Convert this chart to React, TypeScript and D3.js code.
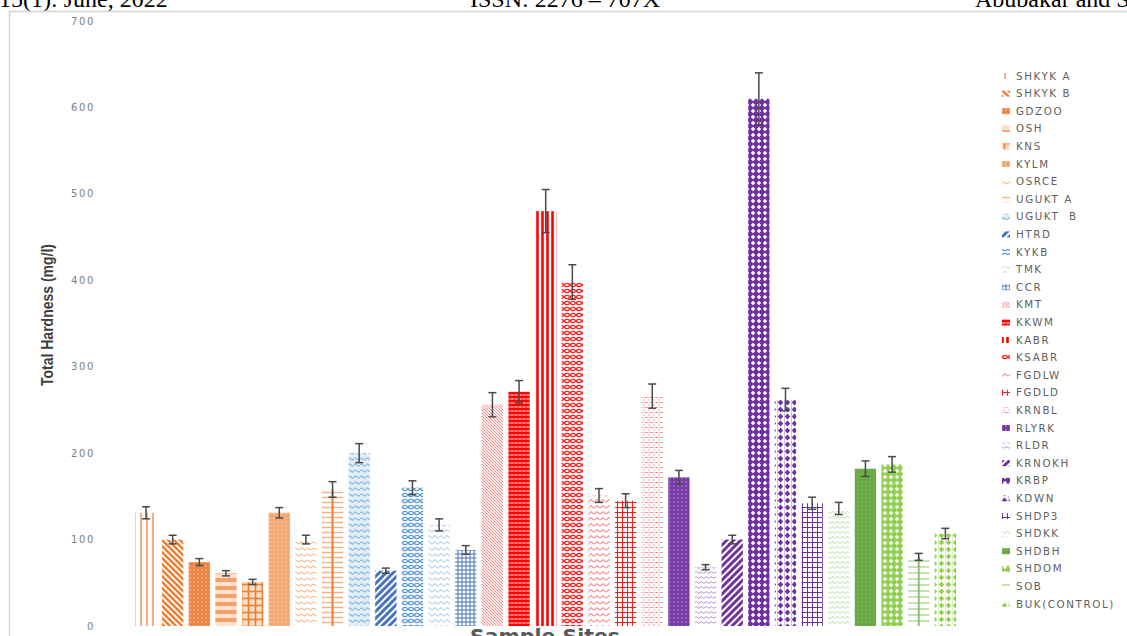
import React from "react";
import * as d3 from "d3";

const sites = ["SHKYK A","SHKYK B","GDZOO","OSH","KNS","KYLM","OSRCE","UGUKT A","UGUKT  B","HTRD","KYKB","TMK","CCR","KMT","KKWM","KABR","KSABR","FGDLW","FGDLD","KRNBL","RLYRK","RLDR","KRNOKH","KRBP","KDWN","SHDP3","SHDKK","SHDBH","SHDOM","SOB","BUK(CONTROL)"];
const hardness = [131,100,74,61,51,131,100,158,200,64,160,117,88,256,271,480,398,151,145,266,172,68,100,610,262,142,136,182,187,80,107];
const errors = [7,5,4,3,3,6,5,9,11,3,8,7,5,14,13,25,20,8,8,14,8,3,5,30,13,7,7,9,9,4,6];
const yTicks = [0,100,200,300,400,500,600,700];

type Pat = { kind: string; fg: string; bg: string; s: number; sw: number; center?: string };
const pats: Pat[] = [
  { kind: "vlines", fg: "#EE8B4C", bg: "#fff", s: 6, sw: 1.4 },
  { kind: "down", fg: "#ED7D31", bg: "#fff", s: 6, sw: 2.4 },
  { kind: "dotsOn", fg: "#FBE0CC", bg: "#EE8540", s: 4, sw: 1 },
  { kind: "hlines", fg: "#F4A06A", bg: "#FCE1CF", s: 8, sw: 4 },
  { kind: "check", fg: "#ED7D31", bg: "#FBDCC6", s: 7, sw: 1.6 },
  { kind: "dotsOn", fg: "#FBE3D2", bg: "#F3A775", s: 4, sw: 1 },
  { kind: "wave", fg: "#F2A472", bg: "#fff", s: 6, sw: 1 },
  { kind: "hlines", fg: "#F4B183", bg: "#fff", s: 5, sw: 1.4, center: "#ED7D31" },
  { kind: "wave", fg: "#7EB0E0", bg: "#E3EEF9", s: 6, sw: 1.2 },
  { kind: "up", fg: "#4472C4", bg: "#fff", s: 7, sw: 3 },
  { kind: "weave", fg: "#5B9BD5", bg: "#fff", s: 6, sw: 1 },
  { kind: "zigzag", fg: "#8DB9E4", bg: "#fff", s: 6, sw: 1 },
  { kind: "grid", fg: "#4472C4", bg: "#fff", s: 4, sw: 1 },
  { kind: "down", fg: "#FF8585", bg: "#FFF0F0", s: 3, sw: 0.9 },
  { kind: "brick", fg: "#FF0000", bg: "#FF8080", s: 4, sw: 1 },
  { kind: "vlines", fg: "#FF0000", bg: "#fff", s: 5, sw: 2.6 },
  { kind: "weave", fg: "#FF1A1A", bg: "#fff", s: 6, sw: 1 },
  { kind: "zigzag", fg: "#FF4D4D", bg: "#fff", s: 6, sw: 1 },
  { kind: "grid", fg: "#FF1A1A", bg: "#fff", s: 5, sw: 1.1 },
  { kind: "dashes", fg: "#FF6B6B", bg: "#fff", s: 5, sw: 1 },
  { kind: "dotsOn", fg: "#C9A6E2", bg: "#7A3AAA", s: 4, sw: 1 },
  { kind: "wave", fg: "#A77CCB", bg: "#fff", s: 5, sw: 0.9 },
  { kind: "up", fg: "#7030A0", bg: "#fff", s: 7, sw: 3 },
  { kind: "lattice", fg: "#7030A0", bg: "#fff", s: 6, sw: 1 },
  { kind: "diamond", fg: "#7030A0", bg: "#fff", s: 7, sw: 1 },
  { kind: "grid", fg: "#7030A0", bg: "#fff", s: 5, sw: 1 },
  { kind: "zigzag", fg: "#A9D18E", bg: "#fff", s: 5, sw: 0.9 },
  { kind: "dotsOn", fg: "#8CC46A", bg: "#6AA843", s: 4, sw: 1 },
  { kind: "lattice", fg: "#92D050", bg: "#fff", s: 6, sw: 1 },
  { kind: "hlines", fg: "#A9D18E", bg: "#fff", s: 6, sw: 1.3, center: "#8CC063" },
  { kind: "diamond", fg: "#92D050", bg: "#fff", s: 7, sw: 1 },
];

function PatternDef({ id, p }: { id: string; p: Pat }) {
  const s = p.s;
  let body: React.ReactNode = null;
  switch (p.kind) {
    case "vlines":
      body = <line x1={s / 2} y1={0} x2={s / 2} y2={s} stroke={p.fg} strokeWidth={p.sw} />;
      break;
    case "hlines":
      body = <line x1={0} y1={s / 2} x2={s} y2={s / 2} stroke={p.fg} strokeWidth={p.sw} />;
      break;
    case "down":
      body = <path d={`M-1,${s - 1} l2,2 M0,0 l${s},${s} M${s - 1},-1 l2,2`} stroke={p.fg} strokeWidth={p.sw} />;
      break;
    case "up":
      body = <path d={`M-1,1 l2,-2 M0,${s} l${s},${-s} M${s - 1},${s + 1} l2,-2`} stroke={p.fg} strokeWidth={p.sw} />;
      break;
    case "grid":
      body = <path d={`M${s / 2},0 V${s} M0,${s / 2} H${s}`} stroke={p.fg} strokeWidth={p.sw} />;
      break;
    case "check":
      body = (
        <g>
          <rect x={s / 2 - 1} y={s / 2 - 1} width={2} height={2} fill={p.fg} />
          <path d={`M${s / 2},0 V${s} M0,${s / 2} H${s}`} stroke={p.fg} strokeWidth={p.sw} />
        </g>
      );
      break;
    case "dotsOn":
      body = <rect x={s / 2 - 0.6} y={s / 2 - 0.6} width={1.2} height={1.2} fill={p.fg} />;
      break;
    case "wave":
      body = <path d={`M0,${s / 2} Q${s / 4},${s / 6} ${s / 2},${s / 2} T${s},${s / 2}`} fill="none" stroke={p.fg} strokeWidth={p.sw} />;
      break;
    case "zigzag":
      body = <path d={`M0,${s * 0.75} L${s / 2},${s * 0.25} L${s},${s * 0.75}`} fill="none" stroke={p.fg} strokeWidth={p.sw} />;
      break;
    case "weave":
      body = <ellipse cx={s / 2} cy={s / 2} rx={s / 2 - 0.6} ry={s / 2 - 1.4} fill="none" stroke={p.fg} strokeWidth={1.3} />;
      break;
    case "brick":
      body = (
        <g>
          <rect x={0} y={0} width={s} height={s / 2} fill={p.fg} />
          <line x1={s / 2} y1={s / 2} x2={s / 2} y2={s} stroke={p.fg} strokeWidth={0.8} />
        </g>
      );
      break;
    case "dashes":
      body = (
        <g>
          <line x1={0.5} y1={s / 2} x2={2.5} y2={s / 2} stroke={p.fg} strokeWidth={p.sw} />
          <line x1={s - 1} y1={0} x2={s - 1} y2={s} stroke={p.fg} strokeWidth={0.6} strokeDasharray="1 1" />
        </g>
      );
      break;
    case "lattice":
      body = (
        <g>
          <rect x={0} y={0} width={s} height={s} fill={p.fg} />
          <polygon points={`${s / 2},0.8 ${s - 0.8},${s / 2} ${s / 2},${s - 0.8} 0.8,${s / 2}`} fill="#fff" />
        </g>
      );
      break;
    case "diamond":
      body = (
        <g>
          <polygon points={`${s / 2},0.6 ${s - 0.8},${s / 2} ${s / 2},${s - 0.6} 0.8,${s / 2}`} fill={p.fg} />
          <line x1={0} y1={0} x2={0} y2={s} stroke={p.fg} strokeWidth={0.6} />
        </g>
      );
      break;
  }
  return (
    <pattern id={id} patternUnits="userSpaceOnUse" width={s} height={s}>
      <rect width={s} height={s} fill={p.bg} />
      {body}
    </pattern>
  );
}

export default function App() {
  const W = 1127, H = 636;
  const y = d3.scaleLinear().domain([0, 700]).range([626, 21]);
  const x = d3.scaleBand<string>().domain(sites).range([132.7, 958.7]).paddingInner(0.2).paddingOuter(0.1);
  const bw = x.bandwidth();
  const legendY = d3.scalePoint<string>().domain(sites).range([76, 604]);
  const sans = "'DejaVu Sans', 'Open Sans', sans-serif";

  return (
    <svg width={W} height={H} style={{ position: "absolute", left: 0, top: 0, background: "#fff" }}>
      <defs>
        {pats.map((p, i) => (
          <PatternDef key={i} id={`pat${i}`} p={p} />
        ))}
      </defs>
      <rect x={0} y={0} width={W} height={H} fill="#fff" />
      {/* page header (cut off at the top, as in the source) */}
      <g fontFamily="'Liberation Serif', 'Times New Roman', serif" fontSize={24} fill="#000">
        <text x={-1} y={7}>15(1): June, 2022</text>
        <text x={470} y={7}>ISSN: 2276 – 707X</text>
        <text x={975} y={7}>Abubakar and S</text>
      </g>
      {/* chart frame */}
      <path d={`M9.5,${H} V11.5 H${W}`} fill="none" stroke="#d4d4d4" strokeWidth={1.5} />

      {/* y tick labels */}
      <g fontFamily={sans} fontSize={10} fill="#808080" letterSpacing={1.6}>
        {yTicks.map((t) => (
          <text key={t} x={95} y={y(t)} dy="0.35em" textAnchor="end">
            {t}
          </text>
        ))}
      </g>

      {/* y title */}
      <text
        transform={`translate(53,${315}) rotate(-90)`}
        textAnchor="middle"
        fontFamily="'Liberation Sans', Arial, sans-serif"
        fontWeight="bold"
        fontSize={16}
        fill="#404040"
        textLength={142}
        lengthAdjust="spacingAndGlyphs"
      >
        Total Hardness (mg/l)
      </text>

      {/* bars */}
      {sites.map((s, i) => {
        const x0 = x(s)!;
        const top = y(hardness[i]);
        const p = pats[i];
        return (
          <g key={s}>
            <rect x={x0} y={top} width={bw} height={y(0) - top} fill={`url(#pat${i})`} />
            {p.center && (
              <line x1={x0 + bw / 2} x2={x0 + bw / 2} y1={top} y2={y(0)} stroke={p.center} strokeWidth={2} />
            )}
          </g>
        );
      })}

      {/* error bars */}
      <g stroke="#4a4a4a" strokeWidth={1.5}>
        {sites.map((s, i) => {
          const cx = x(s)! + bw / 2;
          const y1 = y(hardness[i] + errors[i]);
          const y2 = y(hardness[i] - errors[i]);
          return (
            <g key={s}>
              <line x1={cx} x2={cx} y1={y1} y2={y2} />
              <line x1={cx - 4} x2={cx + 4} y1={y1} y2={y1} />
              <line x1={cx - 4} x2={cx + 4} y1={y2} y2={y2} />
            </g>
          );
        })}
      </g>

      {/* x title */}
      <text
        x={545}
        y={643}
        textAnchor="middle"
        fontFamily={sans}
        fontWeight="bold"
        fontSize={19}
        fill="#595959"
        textLength={150}
        lengthAdjust="spacingAndGlyphs"
      >
        Sample Sites
      </text>

      {/* legend */}
      <g fontFamily={sans} fontSize={10.3} fill="#5f5f5f" letterSpacing={1.6}>
        {sites.map((s, i) => {
          const ly = legendY(s)!;
          return (
            <g key={s}>
              <rect x={1002} y={ly - 3} width={8} height={6} fill={`url(#pat${i})`} />
              <text x={1016} y={ly} dy="0.35em" style={{ whiteSpace: "pre" }}>
                {s}
              </text>
            </g>
          );
        })}
      </g>
    </svg>
  );
}
